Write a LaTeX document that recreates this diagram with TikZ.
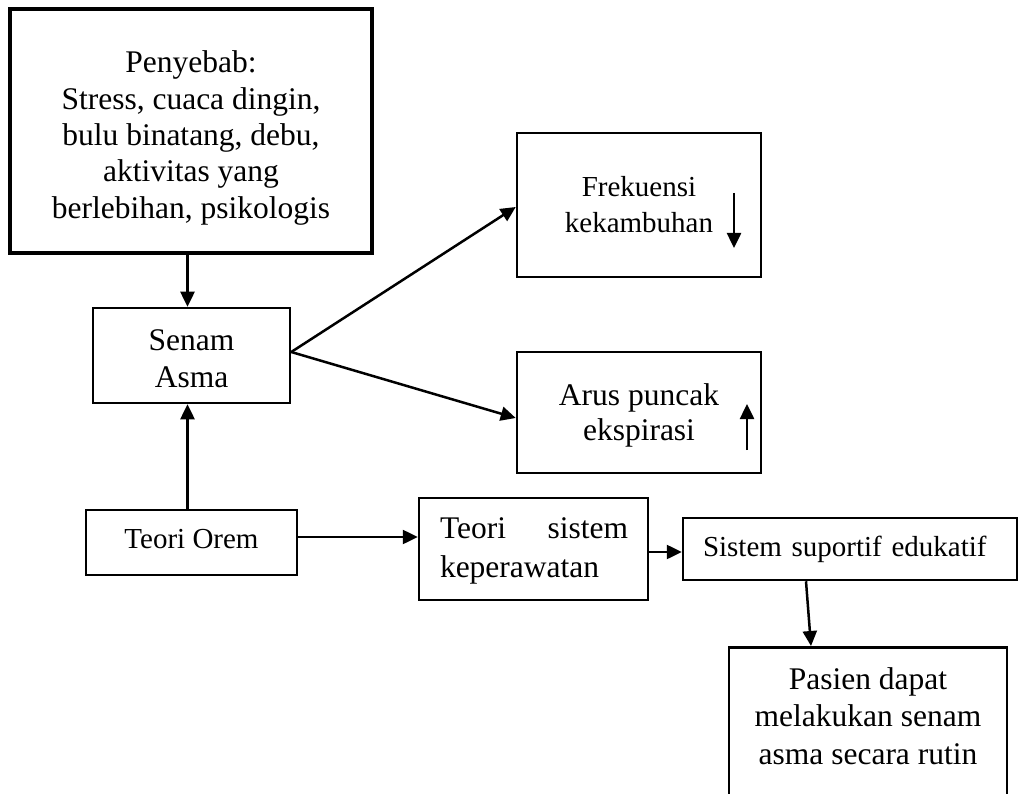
\documentclass[tikz,border=0pt]{standalone}
\usepackage{fontspec}
\setmainfont{Liberation Serif}
\usetikzlibrary{arrows.meta}
\begin{document}
\begin{tikzpicture}[x=1pt,y=-1pt,
  box/.style={draw, line width=2.5pt, inner sep=0pt, align=center},
  f12/.style={font=\fontsize{31.5}{36.5}\selectfont},
  f11/.style={font=\fontsize{29}{36}\selectfont},
  arr/.style={line width=2.5pt, -{Triangle[length=15pt,width=14pt]}}]
\useasboundingbox (0,0) rectangle (1020,794);
\clip (0,0) rectangle (1020,794);
\fill[white] (0,0) rectangle (1020,794);
% boxes
\node[box, line width=3.2pt, minimum width=362pt, minimum height=244pt] (penyebab) at (191,131) {};
\node[f12, align=center, font=\fontsize{31.5}{36.3}\selectfont] (penyebabtext) at (191,138)
  {Penyebab:\\Stress, cuaca dingin,\\bulu binatang, debu,\\aktivitas yang\\berlebihan, psikologis};
\node[box, minimum width=197pt, minimum height=95pt] (senam) at (191.5,355.5) {};
\node[f12, align=center, font=\fontsize{31.5}{37}\selectfont] (senamtext) at (191.5,358.5) {Senam\\Asma};
\node[box, f11, minimum width=244pt, minimum height=144pt] (frek) at (639,205) {Frekuensi\\kekambuhan};
\node[box, f12, font=\fontsize{31.5}{35}\selectfont, minimum width=244pt, minimum height=121pt] (arus) at (639,412.5) {};
\node[f12, align=center, font=\fontsize{31.5}{35}\selectfont] (arustext) at (639,415) {Arus puncak\\ekspirasi};
\node[box, minimum width=211pt, minimum height=65pt] (orem) at (191.5,542.5) {};
\node[f11] (oremtext) at (191.5,539) {Teori Orem};
\node[box, minimum width=229pt, minimum height=102pt] (teori) at (533.5,549) {};
\node[f12, font=\fontsize{31.5}{39}\selectfont, align=left] (teoritext) at (534,551)
  {\makebox[188pt][s]{Teori sistem}\\keperawatan};
\node[box, f11, align=left, text width=294pt, inner xsep=20pt, minimum height=62pt] (sistem) at (850,549) {Sistem suportif edukatif};
\node[box, minimum width=278pt, minimum height=184pt, anchor=north] (pasien) at (868,646) {};
\node[f12, font=\fontsize{31.5}{37.5}\selectfont, align=center] (pasientext) at (868,716)
  {Pasien dapat\\melakukan senam\\asma secara rutin};
% small trend arrows
\coordinate (fa1) at (734,193);
\coordinate (fa2) at (734,248);
\draw[arr] (fa1) -- (fa2);
\coordinate (aa1) at (747,450);
\coordinate (aa2) at (747,404);
\draw[arr] (aa1) -- (aa2);
% connectors
\draw[arr] ([xshift=-3.5pt]penyebab.south) -- ([xshift=-4pt]senam.north);
\draw[arr] ([xshift=-4pt]orem.north) -- ([xshift=-4pt]senam.south);
\draw[arr] ([yshift=3.5pt]senam.east) -- ([yshift=-2pt]frek.west);
\draw[arr] ([yshift=3.5pt]senam.east) -- ([yshift=-5.5pt]arus.west);
\coordinate (o1) at ([yshift=5.5pt]orem.east);
\draw[arr] (o1) -- (o1 -| teori.west);
\coordinate (t1) at ([yshift=-3pt]teori.east);
\draw[arr] (t1) -- (t1 -| sistem.west);
\draw[arr] ([xshift=-44pt]sistem.south) -- ([xshift=-57pt]pasien.north);
\end{tikzpicture}
\end{document}
